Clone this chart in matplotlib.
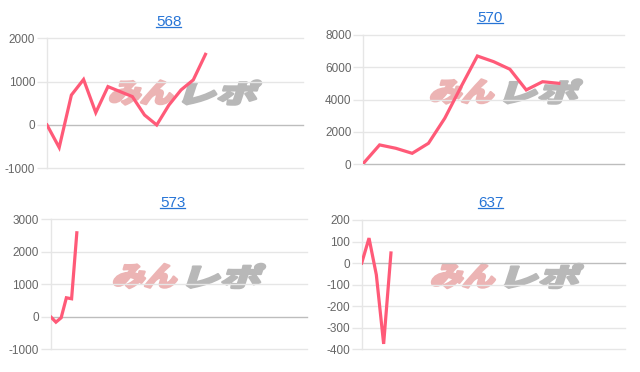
import numpy as np
import matplotlib
matplotlib.use('Agg')
import matplotlib.pyplot as plt
from matplotlib.textpath import TextPath
from matplotlib.font_manager import FontProperties
from matplotlib.patches import PathPatch
from matplotlib.transforms import Affine2D
from matplotlib.lines import Line2D

# Datos de cada gráfica
titulos = ['568', '570', '573', '637']
serie_568 = [0, -520, 690, 1050, 285, 885, 770, 655, 230, 0, 460, 810, 1040, 1630]
serie_570 = [50, 1200, 990, 680, 1300, 2850, 4800, 6700, 6350, 5880, 4600, 5110, 5010]
serie_573 = [0, -165, -30, 585, 555, 2585]
serie_637 = [0, 116, -54, -375, 47]
series = [serie_568, serie_570, serie_573, serie_637]

# Número de huecos del eje x de cada gráfica
huecos_x = [21, 16, 49, 36]
ticks_y = [
    [-1000, 0, 1000, 2000],
    [0, 2000, 4000, 6000, 8000],
    [-1000, 0, 1000, 2000, 3000],
    [-400, -300, -200, -100, 0, 100, 200],
]

W, H = 640, 372
# Cajas en píxeles: izquierda, arriba, derecha, abajo
cajas = [
    (47, 38.3, 303, 168.3),
    (363.3, 35, 624, 164.3),
    (50.7, 219.3, 306.7, 349.3),
    (361.7, 220, 625, 349.3),
]
pos_titulo = [(168.7, 26), (490, 22), (172.7, 207.3), (490.7, 206.7)]
pos_marca = [(185, 92.5), (506, 91.5), (189, 276), (507, 276)]

color_linea = '#ff5a78'
color_titulo = '#2674d6'
color_rejilla = '#e6e6e6'
color_cero = '#bdbdbd'

fig = plt.figure(figsize=(W / 100, H / 100), dpi=100)
fig.patch.set_facecolor('white')

pix = Affine2D().scale(1 / W, 1 / H) + fig.transFigure


def marca(cx, cy):
    # Logotipo de fondo "みんレポ"
    fp = FontProperties(family='Noto Sans CJK JP', weight='black')
    partes = [('みん', '#ecb4b4', 70), ('レポ', '#b8b8b8', 80)]
    alto = 24
    hueco = 4
    total = sum(p[2] for p in partes) + hueco
    x0 = cx - total / 2
    inclinacion = 18
    extra = alto * np.tan(np.radians(inclinacion))
    for texto, color, ancho in partes:
        tp = TextPath((0, 0), texto, size=100, prop=fp)
        bb = tp.get_extents()
        tr = (Affine2D().translate(-bb.x0, -bb.y0)
              .scale((ancho - extra) / bb.width, alto / bb.height)
              .skew_deg(inclinacion, 0)
              .translate(x0, H - cy - alto / 2))
        p = PathPatch(tr.transform_path(tp), facecolor=color, edgecolor=color,
                      lw=1.8, joinstyle='round', transform=pix, zorder=-5)
        fig.add_artist(p)
        x0 += ancho + hueco


for i in range(4):
    l, t, r, b = cajas[i]
    ax = fig.add_axes([l / W, (H - b) / H, (r - l) / W, (b - t) / H])
    ax.set_facecolor('none')
    marca(*pos_marca[i])

    y = series[i]
    x = np.arange(len(y))
    ax.plot(x, y, color=color_linea, lw=2.3, solid_joinstyle='miter', zorder=3)

    ax.set_xlim(0, huecos_x[i])
    ax.set_ylim(ticks_y[i][0], ticks_y[i][-1])
    ax.set_yticks(ticks_y[i])
    ax.set_yticklabels([str(v) for v in ticks_y[i]])
    ax.set_xticks([])

    for s in ['top', 'right', 'bottom']:
        ax.spines[s].set_visible(False)
    ax.spines['left'].set_color(color_rejilla)
    ax.spines['left'].set_linewidth(1)

    for v in ticks_y[i]:
        c = color_cero if v == 0 else color_rejilla
        ax.axhline(v, color=c, lw=1, zorder=1, clip_on=False)

    ax.tick_params(axis='y', length=7.5, width=1, color=color_rejilla, pad=1,
                   labelsize=8.5, labelcolor='#666666')
    for lab in ax.get_yticklabels():
        lab.set_fontfamily('Liberation Sans')

    tx, ty = pos_titulo[i]
    txt = fig.text(tx / W, (H - ty) / H, titulos[i], ha='center', va='baseline',
                   color=color_titulo, fontsize=11, family='Liberation Sans')

# Subrayado de los títulos
fig.canvas.draw()
rend = fig.canvas.get_renderer()
for t in fig.texts:
    bb = t.get_window_extent(rend)
    yb = bb.y0 + 2.2
    fig.add_artist(Line2D([bb.x0, bb.x1], [yb, yb], color=color_titulo, lw=0.9,
                          transform=None))

fig.savefig('out.png', dpi=100)
